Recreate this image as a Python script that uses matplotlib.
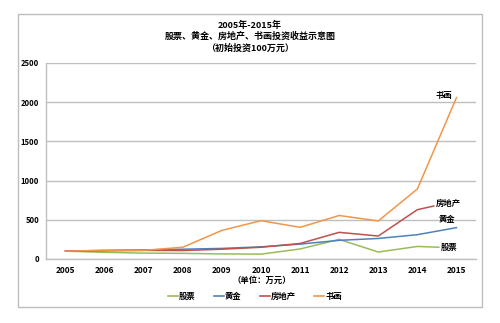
import matplotlib
matplotlib.use("Agg")
import matplotlib.pyplot as plt
from matplotlib.patches import Rectangle
from matplotlib.lines import Line2D

plt.rcParams['font.family'] = ['Noto Sans CJK SC', 'DejaVu Sans']

years = [2005, 2006, 2007, 2008, 2009, 2010, 2011, 2012, 2013, 2014, 2015]
year_labels = [str(y) for y in years]

stock_x = [2005, 2006, 2007, 2008, 2009, 2010, 2011, 2012, 2013, 2014, 2014.55]
stock = [100, 85, 75, 72, 65, 62, 128, 250, 89, 160, 150]

gold = [100, 110, 115, 125, 135, 155, 190, 238, 262, 310, 400]

estate_x = [2005, 2006, 2007, 2008, 2009, 2010, 2011, 2012, 2013, 2014, 2014.42]
estate = [100, 105, 110, 108, 125, 150, 198, 340, 293, 629, 676]

art = [100, 110, 110, 150, 365, 489, 404, 555, 485, 893, 2058]

names = ['股票', '黄金', '房地产', '书画']
colors = ['#9BBB59', '#4F81BD', '#C0504D', '#F0964A']
yticks = [0, 500, 1000, 1500, 2000, 2500]

fig = plt.figure(figsize=(5, 3.23), dpi=100)
fig.patch.set_facecolor('white')

# outer frame
fig.add_artist(Rectangle((18 / 500, 1 - 307 / 323), 464 / 500, 293 / 323,
                         transform=fig.transFigure, fill=False,
                         edgecolor='#BDBDBD', linewidth=1.0))

ax = fig.add_axes([46 / 500, 1 - 259 / 323, 430 / 500, 196 / 323])
x0 = years[0]
ax.plot([x - x0 for x in stock_x], stock, color=colors[0], lw=1.1)
ax.plot([x - x0 for x in years], gold, color=colors[1], lw=1.1)
ax.plot([x - x0 for x in estate_x], estate, color=colors[2], lw=1.1)
ax.plot([x - x0 for x in years], art, color=colors[3], lw=1.1)

ax.set_xlim(-0.5, len(years) - 0.5)
ax.set_ylim(0, 2500)
ax.set_yticks(yticks)
ax.set_yticklabels([str(v) for v in yticks], fontsize=5.5, fontweight='bold')
ax.set_xticks(range(len(years)))
ax.set_xticklabels(year_labels, fontsize=6, fontweight='bold')
ax.tick_params(length=0, pad=5)
ax.grid(axis='y', color='#BFBFBF', lw=1.0)
ax.set_axisbelow(True)
for s in ['top', 'right']:
    ax.spines[s].set_visible(False)
for s in ['left', 'bottom']:
    ax.spines[s].set_color('#BFBFBF')
    ax.spines[s].set_linewidth(1.0)

# end labels
lab = dict(fontsize=6, fontweight='bold', ha='center', va='center')
ax.text(9.69, 2090, '书画', **lab)
ax.text(9.78, 715, '房地产', **lab)
ax.text(9.77, 498, '黄金', **lab)
ax.text(9.80, 153, '股票', **lab)

# title
fig.text(0.5, 1 - 25 / 323, '2005年-2015年', ha='center', va='center', fontsize=6.5, fontweight='bold')
fig.text(0.5, 1 - 36 / 323, '股票、黄金、房地产、书画投资收益示意图', ha='center', va='center', fontsize=6.5, fontweight='bold')
fig.text(0.5, 1 - 48 / 323, '（初始投资100万元）', ha='center', va='center', fontsize=6.5, fontweight='bold')

fig.text(262 / 500, 1 - 280 / 323, '（单位：万元）', ha='center', va='center', fontsize=6, fontweight='bold')

handles = [Line2D([0], [0], color=c, lw=1.2) for c in colors]
fig.legend(handles, names, loc='center', bbox_to_anchor=(255 / 500, 1 - 296 / 323),
           ncol=4, frameon=False, handlelength=1.2, handletextpad=0.1,
           columnspacing=2.2, prop={'weight': 'bold', 'size': 6})

fig.savefig('out.png', dpi=100, facecolor='white')
